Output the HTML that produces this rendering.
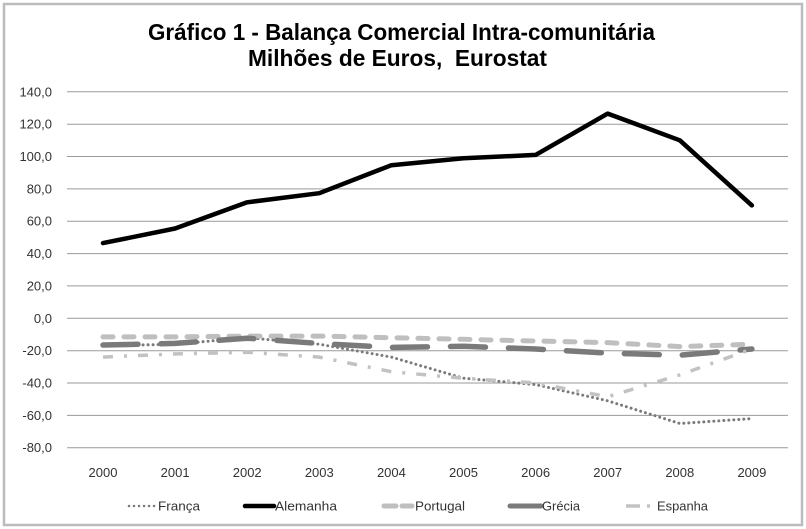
<!DOCTYPE html>
<html>
<head>
<meta charset="utf-8">
<style>
  html, body { margin: 0; padding: 0; background: #fff; }
  svg { display: block; }
  text { font-family: "Liberation Sans", "DejaVu Sans", sans-serif; }
</style>
</head>
<body>
<svg width="806" height="529" viewBox="0 0 806 529" xmlns="http://www.w3.org/2000/svg">
  <rect x="0" y="0" width="806" height="529" fill="#fff"/>
  <rect x="4" y="4" width="798" height="521" fill="#fff" stroke="#bcbcbc" stroke-width="2.5"/>

  <!-- Title -->
  <text x="148" y="40" font-size="23" font-weight="bold" fill="#000" textLength="507" lengthAdjust="spacingAndGlyphs">Gráfico 1 - Balança Comercial Intra-comunitária</text>
  <text x="248" y="66" font-size="23" font-weight="bold" fill="#000" textLength="299" lengthAdjust="spacingAndGlyphs" xml:space="preserve">Milhões de Euros,  Eurostat</text>

  <!-- Gridlines -->
  <g stroke="#9a9a9a" stroke-width="1">
    <line x1="67" y1="91.8" x2="788" y2="91.8"/>
    <line x1="67" y1="124.2" x2="788" y2="124.2"/>
    <line x1="67" y1="156.5" x2="788" y2="156.5"/>
    <line x1="67" y1="188.9" x2="788" y2="188.9"/>
    <line x1="67" y1="221.2" x2="788" y2="221.2"/>
    <line x1="67" y1="253.6" x2="788" y2="253.6"/>
    <line x1="67" y1="285.9" x2="788" y2="285.9"/>
    <line x1="67" y1="318.3" x2="788" y2="318.3"/>
    <line x1="67" y1="350.7" x2="788" y2="350.7"/>
    <line x1="67" y1="383.0" x2="788" y2="383.0"/>
    <line x1="67" y1="415.4" x2="788" y2="415.4"/>
    <line x1="67" y1="447.7" x2="788" y2="447.7"/>
  </g>

  <!-- Y labels -->
  <g font-size="13" fill="#333" text-anchor="end">
    <text x="52" y="96.3">140,0</text>
    <text x="52" y="128.7">120,0</text>
    <text x="52" y="161">100,0</text>
    <text x="52" y="193.4">80,0</text>
    <text x="52" y="225.7">60,0</text>
    <text x="52" y="258.1">40,0</text>
    <text x="52" y="290.4">20,0</text>
    <text x="52" y="322.8">0,0</text>
    <text x="52" y="355.2">-20,0</text>
    <text x="52" y="387.5">-40,0</text>
    <text x="52" y="419.9">-60,0</text>
    <text x="52" y="452.2">-80,0</text>
  </g>

  <!-- X labels -->
  <g font-size="13" fill="#333" text-anchor="middle">
    <text x="103" y="477">2000</text>
    <text x="175.1" y="477">2001</text>
    <text x="247.2" y="477">2002</text>
    <text x="319.3" y="477">2003</text>
    <text x="391.4" y="477">2004</text>
    <text x="463.5" y="477">2005</text>
    <text x="535.6" y="477">2006</text>
    <text x="607.7" y="477">2007</text>
    <text x="679.8" y="477">2008</text>
    <text x="751.9" y="477">2009</text>
  </g>

  <!-- Series -->
  <g fill="none" stroke-linejoin="round">
    <!-- França -->
    <polyline stroke="#7a7a7a" stroke-width="3" stroke-linecap="round" stroke-dasharray="0.01 5"
      points="103,345.8 175.1,344.2 247.2,337.7 319.3,344.2 391.4,357.1 463.5,378.2 535.6,384.6 607.7,400.8 679.8,423.5 751.9,418.6"/>
    <!-- Alemanha -->
    <polyline stroke="#000" stroke-width="4.5" stroke-linecap="round"
      points="103,243.1 175.1,228.5 247.2,202.3 319.3,193.2 391.4,165.2 463.5,158.3 535.6,154.9 607.7,113.6 679.8,140.3 751.9,205.4"/>
    <!-- Portugal -->
    <polyline stroke="#bfbfbf" stroke-width="5" stroke-linecap="round" stroke-dasharray="10 11"
      points="103,336.9 175.1,336.9 247.2,336.1 319.3,336.1 391.4,337.7 463.5,339.3 535.6,341.0 607.7,342.6 679.8,346.6 751.9,344.2"/>
    <!-- Grécia -->
    <polyline stroke="#7a7a7a" stroke-width="5.5" stroke-linecap="round" stroke-dasharray="35 23"
      points="103,345.0 175.1,343.4 247.2,338.2 319.3,343.5 391.4,347.4 463.5,346.3 535.6,349.0 607.7,353.1 679.8,355.2 751.9,349.0"/>
    <!-- Espanha -->
    <polyline stroke="#c2c2c2" stroke-width="3.5" stroke-linecap="butt" stroke-dasharray="10 11 3 11"
      points="103,357.1 175.1,353.9 247.2,352.3 319.3,357.1 391.4,371.7 463.5,378.2 535.6,383.0 607.7,396.8 679.8,374.9 751.9,349.0"/>
  </g>

  <!-- Legend -->
  <g fill="none">
    <line x1="129" y1="506" x2="156" y2="506" stroke="#7a7a7a" stroke-width="2.5" stroke-linecap="round" stroke-dasharray="0.01 5"/>
    <line x1="245" y1="506" x2="274" y2="506" stroke="#000" stroke-width="4.5" stroke-linecap="round"/>
    <line x1="384" y1="506" x2="396" y2="506" stroke="#bfbfbf" stroke-width="5" stroke-linecap="round"/>
    <line x1="402" y1="506" x2="412" y2="506" stroke="#bfbfbf" stroke-width="5" stroke-linecap="round"/>
    <line x1="510" y1="506" x2="541" y2="506" stroke="#7a7a7a" stroke-width="5" stroke-linecap="round"/>
    <line x1="626" y1="506" x2="640" y2="506" stroke="#c2c2c2" stroke-width="3.5"/>
    <line x1="647" y1="506" x2="650" y2="506" stroke="#c2c2c2" stroke-width="3.5"/>
  </g>
  <g font-size="13" fill="#333">
    <text x="158" y="510.5" textLength="42" lengthAdjust="spacingAndGlyphs">França</text>
    <text x="275" y="510.5" textLength="62" lengthAdjust="spacingAndGlyphs">Alemanha</text>
    <text x="415" y="510.5" textLength="50" lengthAdjust="spacingAndGlyphs">Portugal</text>
    <text x="542" y="510.5" textLength="38" lengthAdjust="spacingAndGlyphs">Grécia</text>
    <text x="657" y="510.5" textLength="51" lengthAdjust="spacingAndGlyphs">Espanha</text>
  </g>
</svg>
</body>
</html>
